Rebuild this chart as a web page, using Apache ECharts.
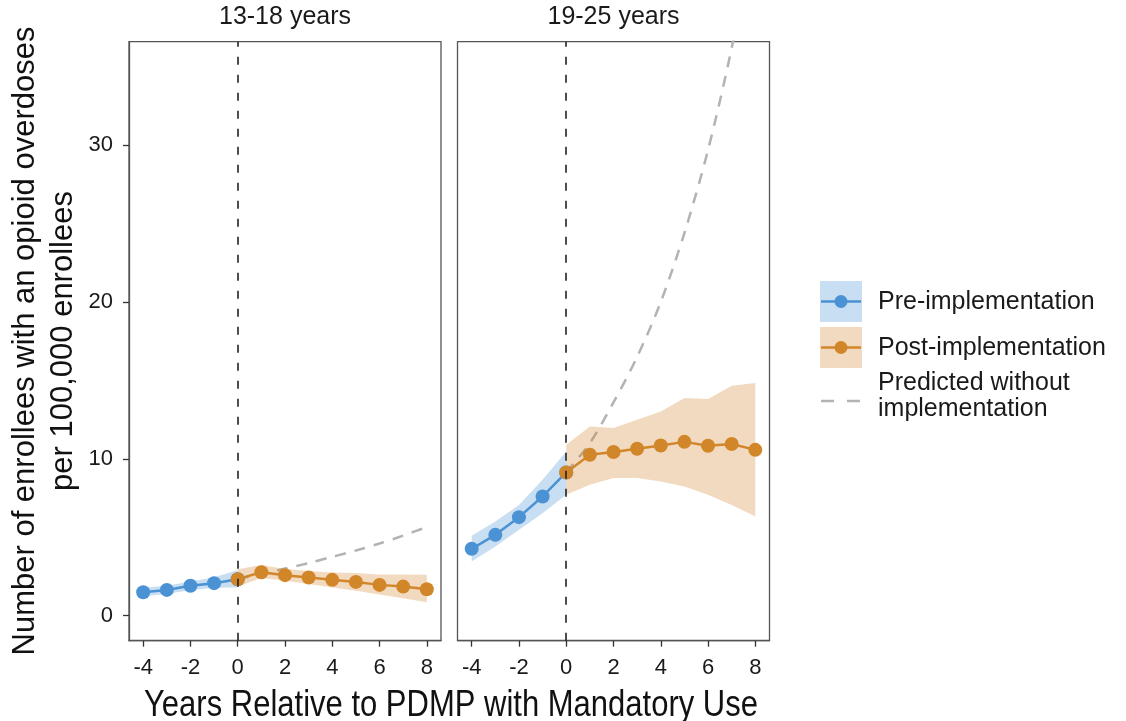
<!DOCTYPE html>
<html>
<head>
<meta charset="utf-8">
<title>Opioid overdoses relative to PDMP</title>
<script src="https://cdn.jsdelivr.net/npm/echarts@6/dist/echarts.min.js"></script>
<style>
  html, body { margin: 0; padding: 0; background: #fff; }
  #chart { width: 1126px; height: 721px; }
</style>
</head>
<body>
<div id="chart"></div>
<script>
// years relative to PDMP with mandatory use
const yearsPre = [-4, -3, -2, -1, 0];
const yearsPost = [0, 1, 2, 3, 4, 5, 6, 7, 8];
const xTicks = [-4, -2, 0, 2, 4, 6, 8];
const yTicks = [0, 10, 20, 30];
const panelNames = ['13-18 years', '19-25 years'];

// 13-18 years
const teenPre = [1.49, 1.64, 1.90, 2.07, 2.32];
const teenPreLo = [1.22, 1.40, 1.62, 1.78, 1.80];
const teenPreHi = [1.78, 1.90, 2.18, 2.45, 2.90];
const teenPost = [2.32, 2.77, 2.58, 2.43, 2.28, 2.15, 1.96, 1.85, 1.68];
const teenPostLo = [1.85, 2.40, 2.22, 2.02, 1.80, 1.58, 1.35, 1.10, 0.85];
const teenPostHi = [2.95, 3.22, 2.98, 2.85, 2.75, 2.72, 2.62, 2.62, 2.60];
const teenPred = [2.35, 2.65, 3.00, 3.35, 3.75, 4.15, 4.60, 5.10, 5.65];

// 19-25 years
const youngPre = [4.26, 5.15, 6.28, 7.60, 9.13];
const youngPreLo = [3.45, 4.40, 5.47, 6.53, 7.70];
const youngPreHi = [5.09, 6.00, 7.06, 8.66, 10.47];
const youngPost = [9.13, 10.26, 10.43, 10.64, 10.85, 11.08, 10.83, 10.94, 10.57];
const youngPostLo = [7.70, 8.34, 8.77, 8.77, 8.55, 8.23, 7.70, 7.06, 6.32];
const youngPostHi = [10.90, 12.06, 11.96, 12.49, 13.02, 13.87, 13.81, 14.66, 14.83];
const youngPred = [9.13, 11.0, 13.6, 16.5, 20.0, 24.4, 29.7, 36.2, 44.1];

const BLUE = '#4a92d4';
const ORANGE = '#d2862a';
const BLUE_FILL = 'rgba(74,146,212,0.30)';
const ORANGE_FILL = 'rgba(210,134,42,0.30)';
const GREY = '#b3b3b3';
const FONT = "'Liberation Sans', Arial, sans-serif";

function pairs(xs, ys) {
  return xs.map((x, i) => [x, ys[i]]);
}

// ribbon drawn as one polygon through the axis coords
function band(idx, xs, lo, hi, color) {
  return {
    type: 'custom',
    xAxisIndex: idx,
    yAxisIndex: idx,
    silent: true,
    z: 2,
    data: xs.map((x, i) => [x, lo[i], hi[i]]),
    renderItem: function (params, api) {
      if (params.dataIndex !== 0) return;
      let pts = [];
      for (let i = 0; i < xs.length; i++) pts.push(api.coord([xs[i], hi[i]]));
      for (let i = xs.length - 1; i >= 0; i--) pts.push(api.coord([xs[i], lo[i]]));
      return { type: 'polygon', shape: { points: pts }, style: { fill: color } };
    }
  };
}

function pointLine(idx, xs, ys, color) {
  return {
    type: 'line',
    xAxisIndex: idx,
    yAxisIndex: idx,
    z: 4,
    data: pairs(xs, ys),
    symbol: 'circle',
    symbolSize: 14,
    lineStyle: { color: color, width: 2.5 },
    itemStyle: { color: color },
    silent: true
  };
}

function predLine(idx, ys) {
  return {
    type: 'line',
    xAxisIndex: idx,
    yAxisIndex: idx,
    z: 1,
    data: pairs(yearsPost, ys),
    symbol: 'none',
    smooth: 0.3,
    clip: true,
    silent: true,
    lineStyle: { color: GREY, width: 2.5, type: [11, 9] },
    markLine: {
      silent: true,
      symbol: ['none', 'none'],
      label: { show: false },
      lineStyle: { color: '#222', width: 1.6, type: [8, 10] },
      data: [{ xAxis: 0 }]
    }
  };
}

const gridLefts = [129, 457.5];

const chart = echarts.init(document.getElementById('chart'));

const xAxes = [0, 1].map(i => ({
  type: 'value',
  gridIndex: i,
  min: -4.6,
  max: 8.6,
  axisLine: { show: true, onZero: false, lineStyle: { color: '#555', width: 1.3 } },
  axisTick: { show: true, length: 6, customValues: xTicks, lineStyle: { color: '#333', width: 1.3 } },
  axisLabel: { customValues: xTicks, fontSize: 22, color: '#1a1a1a', margin: 16, fontFamily: FONT },
  splitLine: { show: false }
}));

const yAxes = [0, 1].map(i => ({
  type: 'value',
  gridIndex: i,
  min: -1.6,
  max: 36.6,
  axisLine: { show: i === 0, onZero: false, lineStyle: { color: '#555', width: 1.3 } },
  axisTick: { show: i === 0, length: 6, customValues: yTicks, lineStyle: { color: '#333', width: 1.3 } },
  axisLabel: { show: i === 0, customValues: yTicks, fontSize: 22, color: '#1a1a1a', margin: 16, fontFamily: FONT },
  splitLine: { show: false }
}));

// legend built by hand (boxes with line + point, dashed key)
const legendGraphics = [
  { type: 'rect', shape: { x: 820, y: 281, width: 42, height: 41 }, style: { fill: BLUE_FILL } },
  { type: 'line', shape: { x1: 821, y1: 301.5, x2: 861, y2: 301.5 }, style: { stroke: BLUE, lineWidth: 2.5 } },
  { type: 'circle', shape: { cx: 841, cy: 301.5, r: 6.5 }, style: { fill: BLUE } },
  { type: 'text', x: 878, y: 302, style: { text: 'Pre-implementation', font: '25px ' + FONT, fill: '#1a1a1a', verticalAlign: 'middle' } },
  { type: 'rect', shape: { x: 820, y: 327, width: 42, height: 41 }, style: { fill: ORANGE_FILL } },
  { type: 'line', shape: { x1: 821, y1: 347.5, x2: 861, y2: 347.5 }, style: { stroke: ORANGE, lineWidth: 2.5 } },
  { type: 'circle', shape: { cx: 841, cy: 347.5, r: 6.5 }, style: { fill: ORANGE } },
  { type: 'text', x: 878, y: 348, style: { text: 'Post-implementation', font: '25px ' + FONT, fill: '#1a1a1a', verticalAlign: 'middle' } },
  { type: 'line', shape: { x1: 821, y1: 401, x2: 862, y2: 401 }, style: { stroke: GREY, lineWidth: 2.5, lineDash: [13, 13] } },
  { type: 'text', x: 878, y: 396, style: { text: 'Predicted without\nimplementation', font: '25px ' + FONT, fill: '#1a1a1a', verticalAlign: 'middle', lineHeight: 26 } }
];

const textGraphics = [
  { type: 'text', x: 285, y: 17, style: { text: panelNames[0], font: '25px ' + FONT, fill: '#1a1a1a', align: 'center', verticalAlign: 'middle' } },
  { type: 'text', x: 613.5, y: 17, style: { text: panelNames[1], font: '25px ' + FONT, fill: '#1a1a1a', align: 'center', verticalAlign: 'middle' } },
  { type: 'text', x: 451, y: 706, scaleY: 1.22, style: { text: 'Years Relative to PDMP with Mandatory Use', font: '31px ' + FONT, fill: '#111', align: 'center', verticalAlign: 'middle' } },
  { type: 'text', x: 44, y: 341, rotation: Math.PI / 2, style: { text: 'Number of enrollees with an opioid overdoses\nper 100,000 enrollees', font: '31px ' + FONT, fill: '#111', align: 'center', verticalAlign: 'middle', lineHeight: 38 } }
];

chart.setOption({
  animation: false,
  backgroundColor: '#fff',
  grid: gridLefts.map(l => ({
    left: l,
    top: 41.7,
    width: 312,
    height: 599,
    show: true,
    borderColor: '#555',
    borderWidth: 1.3,
    backgroundColor: 'transparent'
  })),
  xAxis: xAxes,
  yAxis: yAxes,
  series: [
    predLine(0, teenPred),
    band(0, yearsPre, teenPreLo, teenPreHi, BLUE_FILL),
    band(0, yearsPost, teenPostLo, teenPostHi, ORANGE_FILL),
    pointLine(0, yearsPre, teenPre, BLUE),
    pointLine(0, yearsPost, teenPost, ORANGE),
    predLine(1, youngPred),
    band(1, yearsPre, youngPreLo, youngPreHi, BLUE_FILL),
    band(1, yearsPost, youngPostLo, youngPostHi, ORANGE_FILL),
    pointLine(1, yearsPre, youngPre, BLUE),
    pointLine(1, yearsPost, youngPost, ORANGE)
  ],
  graphic: legendGraphics.concat(textGraphics)
});
</script>
</body>
</html>
